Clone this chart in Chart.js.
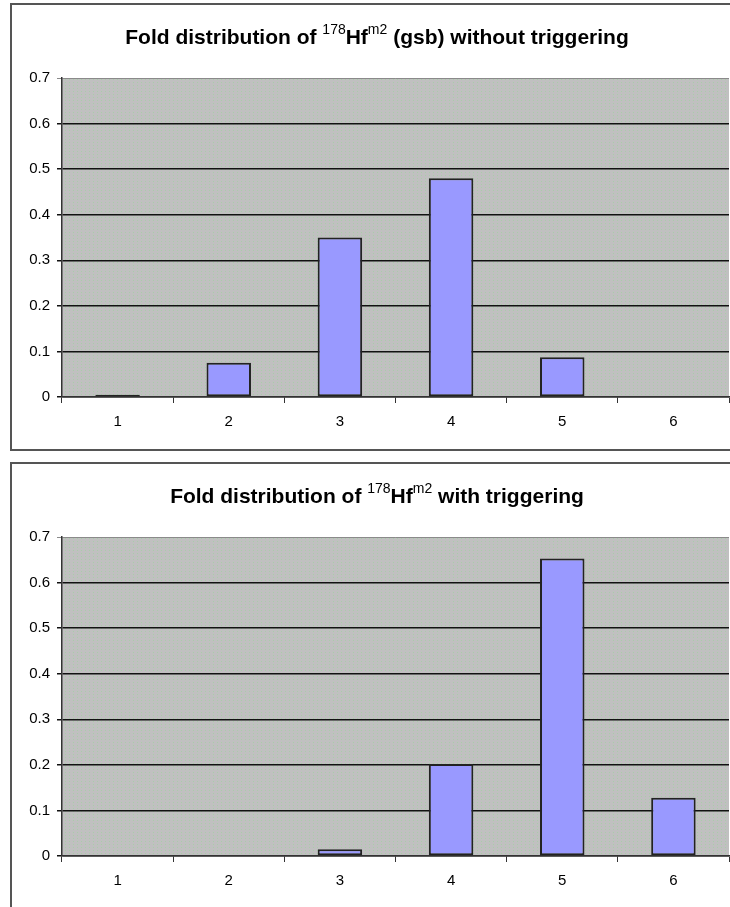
<!DOCTYPE html>
<html>
<head>
<meta charset="utf-8">
<script src="https://cdn.jsdelivr.net/npm/chart.js@4/dist/chart.umd.min.js"></script>
<style>
	html, body { margin: 0; padding: 0; background: #fff; overflow: hidden; width: 730px; height: 907px; }
	.box { position: absolute; left: 10px; width: 760px; border: 2px solid #555; box-sizing: border-box; }
	canvas { position: absolute; left: 0; }
</style>
</head>
<body>
<div class="box" style="top:3px;height:448px"></div>
<div class="box" style="top:462px;height:460px"></div>
<canvas id="topChart" width="760" height="456" style="top:0px"></canvas>
<canvas id="bottomChart" width="760" height="456" style="top:459px"></canvas>
<script>
const folds = ['1', '2', '3', '4', '5', '6'];
const withoutTriggering = [0.005, 0.075, 0.35, 0.48, 0.087, 0];
const withTriggering = [0, 0, 0.015, 0.202, 0.653, 0.128];
const yTicks = [0, 0.1, 0.2, 0.3, 0.4, 0.5, 0.6, 0.7];

// title pieces: [text, superscript?]
const topTitle = [['Fold distribution of ', false], ['178', true], ['Hf', false], ['m2', true], [' (gsb) without triggering', false]];
const bottomTitle = [['Fold distribution of ', false], ['178', true], ['Hf', false], ['m2', true], [' with triggering', false]];

const makePattern = () => {
	const c = document.createElement('canvas');
	c.width = 4;
	c.height = 3;
	const g = c.getContext('2d');
	g.fillStyle = '#c0c0c0';
	g.fillRect(0, 0, 4, 3);
	g.fillStyle = '#a9cca9';
	g.fillRect(1, 1, 1, 1);
	return g.createPattern(c, 'repeat');
};

const plotBg = {
	id: 'plotBg',
	beforeDraw: (chart) => {
		const a = chart.chartArea;
		const ctx = chart.ctx;
		ctx.save();
		ctx.fillStyle = makePattern();
		ctx.fillRect(a.left, a.top, a.right - a.left, a.bottom - a.top);
		ctx.restore();
	}
};

const richTitle = {
	id: 'richTitle',
	afterDraw: (chart, args, opts) => {
		const ctx = chart.ctx;
		const big = 'bold 21px "Liberation Sans", Arial, sans-serif';
		const small = '14px "Liberation Sans", Arial, sans-serif';
		ctx.save();
		ctx.fillStyle = '#000';
		ctx.textBaseline = 'alphabetic';
		let total = 0;
		opts.parts.forEach(([t, sup]) => {
			ctx.font = sup ? small : big;
			total += ctx.measureText(t).width;
		});
		let x = opts.cx - total / 2;
		opts.parts.forEach(([t, sup]) => {
			ctx.font = sup ? small : big;
			ctx.fillText(t, x, sup ? opts.y - 10 : opts.y);
			x += ctx.measureText(t).width;
		});
		ctx.restore();
	}
};

const makeChart = (id, values, parts) => {
	const ctx = document.getElementById(id).getContext('2d');
	return new Chart(ctx, {
		type: 'bar',
		data: {
			labels: folds,
			datasets: [{
				data: values,
				backgroundColor: '#9999ff',
				borderColor: '#222',
				borderWidth: 2,
				borderSkipped: false,
				barPercentage: 0.4,
				categoryPercentage: 1
			}]
		},
		options: {
			responsive: false,
			animation: false,
			layout: {padding: {top: 78, left: 12, right: 31, bottom: 0}},
			plugins: {
				legend: {display: false},
				tooltip: {enabled: false},
				richTitle: {parts: parts, cx: 377, y: 44}
			},
			scales: {
				x: {
					afterFit: (s) => { s.height = 59; },
					grid: {drawOnChartArea: false, offset: true, tickLength: 6, color: '#333'},
					border: {color: '#333', width: 1.5},
					ticks: {color: '#000', padding: 10, font: {family: '"Liberation Sans", Arial', size: 15}}
				},
				y: {
					min: 0,
					max: 0.7,
					afterFit: (s) => { s.width = 50; },
					afterBuildTicks: (s) => { s.ticks = yTicks.map(v => ({value: v})); },
					grid: {
						tickLength: 5,
						lineWidth: (c) => c.index === yTicks.length - 1 ? 1 : 1.5,
						color: (c) => c.index === yTicks.length - 1 ? '#8a8a8a' : '#111'
					},
					border: {color: '#333', width: 1.5},
					ticks: {
						color: '#000',
						padding: 7,
						font: {family: '"Liberation Sans", Arial', size: 15},
						callback: (v) => String(+(+v).toFixed(1))
					}
				}
			}
		},
		plugins: [plotBg, richTitle]
	});
};

makeChart('topChart', withoutTriggering, topTitle);
makeChart('bottomChart', withTriggering, bottomTitle);
</script>
</body>
</html>
